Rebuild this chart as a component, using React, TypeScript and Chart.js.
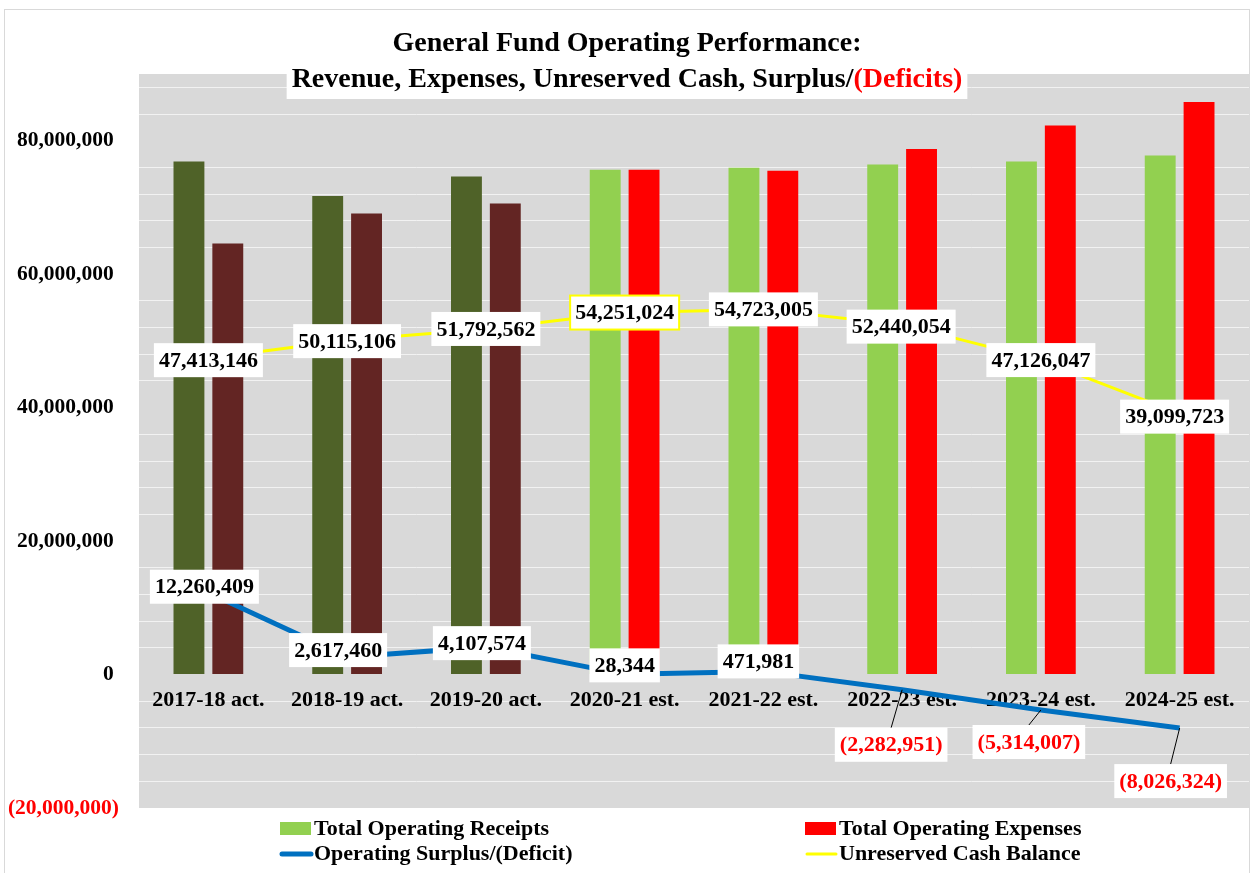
import React, { useEffect, useRef } from 'react';
import { Chart, registerables } from 'chart.js';

Chart.register(...registerables);

const FONT = '"Liberation Serif", "Times New Roman", serif';

const categories = [
  '2017-18 act.',
  '2018-19 act.',
  '2019-20 act.',
  '2020-21 est.',
  '2021-22 est.',
  '2022-23 est.',
  '2023-24 est.',
  '2024-25 est.',
];

const receipts = [76900000, 71700000, 74650000, 75650000, 75950000, 76450000, 76900000, 77800000];
const expenses = [64600000, 69100000, 70600000, 75650000, 75500000, 78750000, 82300000, 85800000];
const surplus = [12260409, 2617460, 4107574, 28344, 471981, -2282951, -5314007, -8026324];
const cashBalance = [47413146, 50115106, 51792562, 54251024, 54723005, 52440054, 47126047, 39099723];

const receiptColors = ['#4F6228', '#4F6228', '#4F6228', '#92D050', '#92D050', '#92D050', '#92D050', '#92D050'];
const expenseColors = ['#632523', '#632523', '#632523', '#FF0000', '#FF0000', '#FF0000', '#FF0000', '#FF0000'];

const seriesNames = [
  'Total Operating Receipts',
  'Total Operating Expenses',
  'Operating Surplus/(Deficit)',
  'Unreserved Cash Balance',
];

const titleLine1 = 'General Fund Operating Performance:';
const titleLine2a = 'Revenue, Expenses, Unreserved Cash, Surplus/';
const titleLine2b = '(Deficits)';

const Y_MIN = -20000000;
const Y_MAX = 90000000;
const Y_STEP = 4000000;
const Y_LABEL_STEP = 20000000;
const yTickValues: number[] = [];
for (let v = Y_MIN; v <= Y_MAX; v += Y_STEP) yTickValues.push(v);

// label placement (style): offsets from the point, in px
const cashLabelOffsets = [[0, 2], [0, 1], [0, 0], [0, 0], [0, 0], [-1, 2], [0, 0], [-5, 3]];
const cashLabelBorders = [null, null, null, '#FFFF00', null, null, null, null];
const surplusLabelOffsets = [[-4, -6], [-9, -7], [-4, -4], [0, -9], [-5, -10], [-11, 55], [-12, 32], [-9, 53]];

const fmt = (v: number) => {
  const s = Math.abs(Math.round(v)).toLocaleString('en-US');
  return v < 0 ? `(${s})` : s;
};

const bgPlugin = {
  id: 'bgPlugin',
  beforeDraw(chart: any) {
    const { ctx, chartArea: a, width, height } = chart;
    ctx.save();
    ctx.fillStyle = '#FFFFFF';
    ctx.fillRect(0, 0, width, height);
    ctx.strokeStyle = '#D9D9D9';
    ctx.lineWidth = 1;
    ctx.strokeRect(4.5, 9.5, a.right - 4, height + 10);
    ctx.fillStyle = '#D9D9D9';
    ctx.fillRect(a.left, a.top, a.right - a.left, a.bottom - a.top);
    ctx.restore();
  },
};

function drawBoxLabel(ctx: CanvasRenderingContext2D, text: string, cx: number, cy: number, color: string, border: string | null) {
  ctx.font = `bold 22px ${FONT}`;
  const w = ctx.measureText(text).width + 10;
  const h = 34;
  ctx.fillStyle = '#FFFFFF';
  ctx.fillRect(cx - w / 2, cy - h / 2, w, h);
  if (border) {
    ctx.strokeStyle = border;
    ctx.lineWidth = 2;
    ctx.strokeRect(cx - w / 2, cy - h / 2, w, h);
  }
  ctx.fillStyle = color;
  ctx.textAlign = 'center';
  ctx.textBaseline = 'middle';
  ctx.fillText(text, cx, cy + 1);
}

const labelPlugin = {
  id: 'labelPlugin',
  afterDatasetsDraw(chart: any) {
    const ctx = chart.ctx;
    ctx.save();
    const drawSet = (dsIndex: number, offsets: number[][], borders: (string | null)[] | null) => {
      const meta = chart.getDatasetMeta(dsIndex);
      const data = chart.data.datasets[dsIndex].data as number[];
      meta.data.forEach((pt: any, i: number) => {
        const [dx, dy] = offsets[i];
        const cx = pt.x + dx;
        const cy = pt.y + dy;
        if (Math.abs(dy) > 20) {
          ctx.strokeStyle = '#000000';
          ctx.lineWidth = 1;
          ctx.beginPath();
          ctx.moveTo(pt.x, pt.y);
          ctx.lineTo(cx, cy - 17);
          ctx.stroke();
        }
        const v = data[i];
        drawBoxLabel(ctx, fmt(v), cx, cy, v < 0 ? '#FF0000' : '#000000', borders ? borders[i] : null);
      });
    };
    drawSet(3, cashLabelOffsets, cashLabelBorders);
    drawSet(2, surplusLabelOffsets, null);
    ctx.restore();
  },
};

const titlePlugin = {
  id: 'titlePlugin',
  afterDraw(chart: any) {
    const ctx = chart.ctx;
    const cx = chart.width / 2;
    ctx.save();
    ctx.font = `bold 28px ${FONT}`;
    ctx.textBaseline = 'middle';
    ctx.textAlign = 'center';
    ctx.fillStyle = '#000000';
    ctx.fillText(titleLine1, cx, 44);
    const wa = ctx.measureText(titleLine2a).width;
    const wb = ctx.measureText(titleLine2b).width;
    const total = wa + wb;
    const x0 = cx - total / 2;
    ctx.fillStyle = '#FFFFFF';
    ctx.fillRect(x0 - 5, 62, total + 10, 37);
    ctx.textAlign = 'left';
    ctx.fillStyle = '#000000';
    ctx.fillText(titleLine2a, x0, 80);
    ctx.fillStyle = '#FF0000';
    ctx.fillText(titleLine2b, x0 + wa, 80);
    ctx.restore();
  },
};

const legendPlugin = {
  id: 'legendPlugin',
  afterDraw(chart: any) {
    const ctx = chart.ctx;
    const cols = [280, 805];
    const rows = [829, 854];
    ctx.save();
    ctx.font = `bold 22px ${FONT}`;
    ctx.textBaseline = 'middle';
    ctx.textAlign = 'left';
    chart.data.datasets.forEach((ds: any, i: number) => {
      const x = cols[i % 2];
      const y = rows[Math.floor(i / 2)];
      if (ds.type === 'bar') {
        const colors = ds.backgroundColor as string[];
        ctx.fillStyle = colors[colors.length - 1];
        ctx.fillRect(x, y - 7, 31, 13);
      } else {
        ctx.strokeStyle = ds.borderColor;
        ctx.lineWidth = ds.borderWidth;
        ctx.lineCap = 'round';
        ctx.beginPath();
        ctx.moveTo(x + 2, y);
        ctx.lineTo(x + 31, y);
        ctx.stroke();
      }
      ctx.fillStyle = '#000000';
      ctx.fillText(ds.label, x + 34, y);
    });
    ctx.restore();
  },
};

export default function App() {
  const ref = useRef<HTMLCanvasElement | null>(null);

  useEffect(() => {
    if (!ref.current) return;
    const chart = new Chart(ref.current, {
      type: 'bar',
      data: {
        labels: categories,
        datasets: [
          {
            type: 'bar',
            label: seriesNames[0],
            data: receipts,
            backgroundColor: receiptColors,
            borderWidth: 0,
            categoryPercentage: 0.56,
            barPercentage: 0.795,
            order: 1,
          },
          {
            type: 'bar',
            label: seriesNames[1],
            data: expenses,
            backgroundColor: expenseColors,
            borderWidth: 0,
            categoryPercentage: 0.56,
            barPercentage: 0.795,
            order: 1,
          },
          {
            type: 'line',
            label: seriesNames[2],
            data: surplus,
            borderColor: '#0070C0',
            backgroundColor: '#0070C0',
            borderWidth: 5,
            pointRadius: 0,
            tension: 0,
            fill: false,
            order: 0,
          },
          {
            type: 'line',
            label: seriesNames[3],
            data: cashBalance,
            borderColor: '#FFFF00',
            backgroundColor: '#FFFF00',
            borderWidth: 3,
            pointRadius: 0,
            tension: 0,
            fill: false,
            order: 0,
          },
        ] as any,
      },
      options: {
        animation: false,
        responsive: false,
        layout: { padding: { top: 74, bottom: 65, left: 0, right: 5 } },
        plugins: {
          legend: { display: false },
          title: { display: false },
          tooltip: { enabled: false },
        },
        scales: {
          x: {
            type: 'category',
            position: { y: 0 } as any,
            grid: { display: false, drawTicks: false },
            border: { display: false },
            ticks: {
              color: '#000000',
              font: { family: FONT, size: 22, weight: 'bold' },
              padding: 13,
              maxRotation: 0,
              autoSkip: false,
            },
          },
          y: {
            min: Y_MIN,
            max: Y_MAX,
            afterFit: (scale: any) => {
              scale.width = 139;
            },
            afterBuildTicks: (scale: any) => {
              scale.ticks = yTickValues.map((v) => ({ value: v }));
            },
            grid: {
              drawTicks: false,
              color: (c: any) =>
                c.tick && (Math.abs(c.tick.value) % Y_LABEL_STEP === 0 || c.tick.value >= Y_MAX)
                  ? 'rgba(0,0,0,0)'
                  : '#F2F2F2',
              lineWidth: 1,
            },
            border: { display: false },
            ticks: {
              autoSkip: false,
              padding: 20,
              color: (c: any) => (c.tick && c.tick.value < 0 ? '#FF0000' : '#000000'),
              font: { family: FONT, size: 21.5, weight: 'bold' },
              callback: (v: any) => {
                const n = Number(v);
                if (Math.abs(n) % Y_LABEL_STEP !== 0) return '';
                return n < 0 ? fmt(n) : fmt(n) + ' ';
              },
            },
          },
        },
      },
      plugins: [bgPlugin, labelPlugin, titlePlugin, legendPlugin],
    });
    return () => chart.destroy();
  }, []);

  return (
    <div style={{ position: 'fixed', left: 0, top: 0, width: 1254, height: 873, background: '#FFFFFF' }}>
      <canvas ref={ref} width={1254} height={873} style={{ display: 'block' }} />
    </div>
  );
}
